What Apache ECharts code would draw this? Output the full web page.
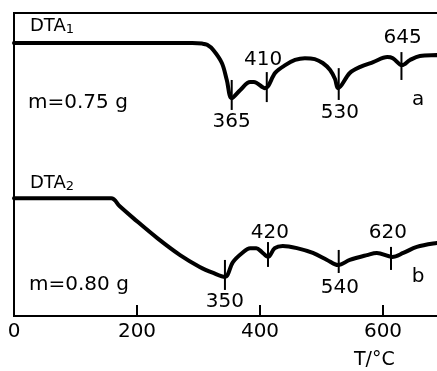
<!DOCTYPE html>
<html><head><meta charset="utf-8">
<script src="https://cdn.jsdelivr.net/npm/echarts@6/dist/echarts.min.js"></script>
<style>html,body{margin:0;padding:0;background:#fff}#c{width:437px;height:371px}</style>
</head><body><div id="c"></div>
<script>
// Curve a (DTA1): temperature (°C) and signal (arbitrary units)
const temps1 = [0,290,306,314,324,338,346,354,368,384,390,408,425,441,457,473,489,502,514,522,527,546,563,584,607,616,631,644,660,688,725];
const dta1   = [90.1,90.1,89.9,89.5,87.8,83.5,77.9,71.9,74.6,77.2,77.2,75.2,80.3,82.8,84.5,85.1,84.8,83.5,81.2,78.2,75.2,80.2,82.2,83.8,85.5,85.1,82.8,84.5,85.8,86.1,86.5];
// Curve b (DTA2)
const temps2 = [0,158,172,194,233,270,302,324,343,356,371,384,394,403,413,424,437,460,486,509,527,546,574,590,615,633,655,688,725];
const dta2   = [38.9,38.9,36.2,32.3,25.7,20.1,16.2,14.2,12.9,17.8,20.8,22.4,22.4,21.1,19.5,22.4,23.1,22.4,20.8,18.5,16.8,18.5,20.1,20.8,19.5,20.8,22.8,24.1,25.1];
// Peak marks: position, top and bottom of mark
const peakT   = [354, 411, 528, 630, 343, 413, 528, 613];
const peakTop = [77.9, 80.5, 81.8, 87.1, 18.5, 24.4, 21.8, 22.8];
const peakBot = [68.0, 70.6, 71.3, 77.9, 8.6, 16.2, 14.2, 15.2];
// Peak labels
const peakLabels = ['365','410','530','645','350','420','540','620','a','b'];
const labelT     = [354, 405, 530, 632, 343, 416, 530, 608, 657, 657];
const labelV     = [64.0, 84.5, 67.0, 91.7, 4.6, 27.4, 9.2, 27.4, 71.3, 12.9];
// Axis ticks
const xMin = 0, xMax = 800, xStep = 200;

const FONT = 'DejaVu Sans';
const chart = echarts.init(document.getElementById('c'), null, {renderer:'canvas'});
const toPairs = (a, b) => a.map((v, i) => [v, b[i]]);
chart.setOption({
  animation: false,
  backgroundColor: '#fff',
  grid: {left: 14, top: 13, width: 492, height: 303, show: true, borderColor: '#000', borderWidth: 2, backgroundColor: 'transparent', containLabel: false, outerBoundsMode: 'none'},
  xAxis: {
    type: 'value', min: xMin, max: xMax, interval: xStep,
    axisLine: {show: true, lineStyle: {color: '#000', width: 2}},
    axisTick: {show: true, inside: true, length: 11, lineStyle: {color: '#000', width: 2}},
    splitLine: {show: false},
    axisLabel: {color: '#000', fontFamily: FONT, fontSize: 20, margin: 6}
  },
  yAxis: {type: 'value', min: 0, max: 100, show: false, splitLine: {show: false}},
  graphic: [
    {type: 'text', left: 30, top: 17, style: {text: '{a|DTA}{s|1}', rich: {a: {fontFamily: FONT, fontSize: 18, fill: '#000'}, s: {fontFamily: FONT, fontSize: 13, fill: '#000', padding: [8,0,0,0]}}}},
    {type: 'text', left: 28, top: 93, style: {text: 'm=0.75 g', fontFamily: FONT, fontSize: 20, fill: '#000'}},
    {type: 'text', left: 30, top: 174, style: {text: '{a|DTA}{s|2}', rich: {a: {fontFamily: FONT, fontSize: 18, fill: '#000'}, s: {fontFamily: FONT, fontSize: 13, fill: '#000', padding: [8,0,0,0]}}}},
    {type: 'text', left: 29, top: 275, style: {text: 'm=0.80 g', fontFamily: FONT, fontSize: 20, fill: '#000'}},
    {type: 'text', left: 354, top: 351, style: {text: 'T/°C', fontFamily: FONT, fontSize: 19, fill: '#000'}}
  ],
  series: [
    {type: 'line', data: toPairs(temps1, dta1), showSymbol: false, smooth: 0.35, lineStyle: {color: '#000', width: 4, cap: 'round', join: 'round'}, z: 3},
    {type: 'line', data: toPairs(temps2, dta2), showSymbol: false, smooth: 0.35, lineStyle: {color: '#000', width: 4, cap: 'round', join: 'round'}, z: 3},
    {type: 'custom', data: peakT.map((t, i) => [t, peakTop[i], peakBot[i]]),
     renderItem: (params, api) => {
       const p1 = api.coord([api.value(0), api.value(1)]);
       const p2 = api.coord([api.value(0), api.value(2)]);
       return {type: 'line', shape: {x1: p1[0], y1: p1[1], x2: p2[0], y2: p2[1]}, style: {stroke: '#000', lineWidth: 2}};
     }, z: 4},
    {type: 'custom', data: labelT.map((t, i) => [t, labelV[i]]),
     renderItem: (params, api) => {
       const p = api.coord([api.value(0), api.value(1)]);
       return {type: 'text', x: p[0], y: p[1], style: {text: peakLabels[params.dataIndex], fontFamily: FONT, fontSize: 20, fill: '#000', align: 'center', verticalAlign: 'middle'}};
     }, z: 5}
  ]
});
</script></body></html>
